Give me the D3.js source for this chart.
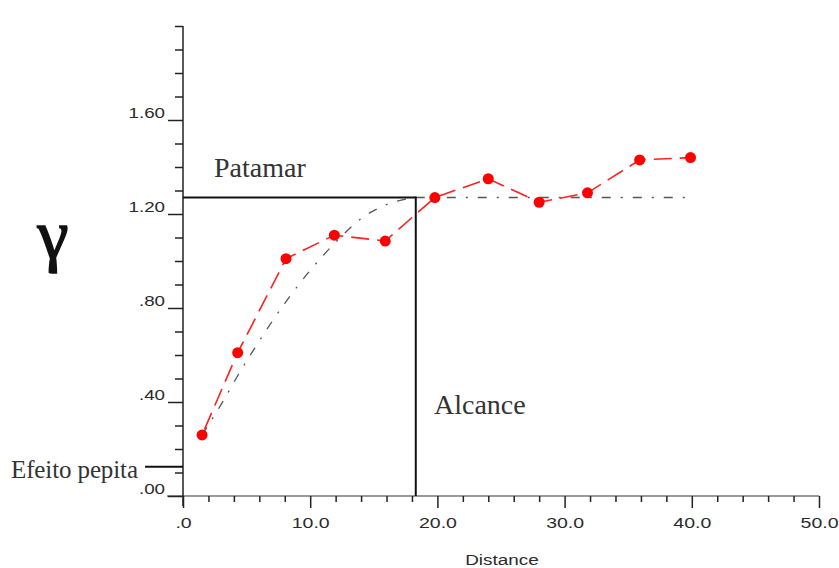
<!DOCTYPE html>
<html>
<head>
<meta charset="utf-8">
<script src="https://cdn.jsdelivr.net/npm/d3@7"></script>
<style>
  body { margin: 0; background: #fff; }
  text.tick-lbl { font-family: "Liberation Sans", Arial, sans-serif; font-size: 15px; fill: #2a2a2a; }
  text.serif { font-family: "Liberation Serif", "Times New Roman", serif; fill: #333; }
</style>
</head>
<body>
<svg></svg>
<script>
const lags   = [1.5, 4.3, 8.1, 11.9, 15.9, 19.8, 24.0, 28.0, 31.8, 35.9, 39.9];
const gammas = [0.26, 0.61, 1.01, 1.11, 1.085, 1.27, 1.35, 1.25, 1.29, 1.43, 1.44];

// Modèle ajusté (courbe pointillée)
const modelLags   = [1.5, 3, 4.5, 6, 8, 10, 12, 14, 16, 18.3];
const modelGammas = [0.26, 0.39, 0.53, 0.66, 0.82, 0.96, 1.08, 1.18, 1.24, 1.27];
const sillLags    = [18.3, 40];

// Paramètres marqués (patamar, alcance, efeito pepita)
const sill = 1.27;
const range = 18.3;
const nugget = 0.125;

// Axes
const xTicks = [0, 10, 20, 30, 40, 50];
const xTickLabels = [".0", "10.0", "20.0", "30.0", "40.0", "50.0"];
const xMinor = [2, 4, 6, 8, 12, 14, 16, 18, 22, 24, 26, 28, 32, 34, 36, 38, 42, 44, 46, 48];
const yTicks = [0, 0.4, 0.8, 1.2, 1.6];
const yTickLabels = [".00", ".40", ".80", "1.20", "1.60"];
const yMinor = [0.1, 0.2, 0.3, 0.5, 0.6, 0.7, 0.9, 1.0, 1.1, 1.3, 1.4, 1.5, 1.7, 1.8, 1.9, 2.0];

// ================= SVG ================= //
const width = 839, height = 568;
const svg = d3.select("svg").attr("width", width).attr("height", height);

const x = d3.scaleLinear().domain([0, 50]).range([183, 819]);
const y = d3.scaleLinear().domain([0, 2]).range([496, 26]);

// étirement horizontal des libellés (police large de l'original)
function stretch(sel, k) {
  sel.each(function () {
    const w = this.getComputedTextLength();
    d3.select(this).attr("textLength", w * k).attr("lengthAdjust", "spacingAndGlyphs");
  });
}

// ---- Axe X ----
const gx = svg.append("g").attr("transform", `translate(0,${y(0)})`);
gx.append("line")
  .attr("x1", x(0) - 16).attr("x2", x(50))
  .attr("stroke", "#777").attr("stroke-width", 1.5);
gx.call(g => g.append("g").call(d3.axisBottom(x).tickValues(xMinor).tickSize(6).tickFormat("")))
  .call(g => g.append("g").call(d3.axisBottom(x).tickValues(xTicks).tickSize(12)
      .tickFormat((d, i) => xTickLabels[i])));
gx.selectAll(".domain").remove();
gx.selectAll(".tick line").attr("stroke", "#222").attr("stroke-width", 1.5);
gx.selectAll(".tick text")
  .attr("class", "tick-lbl")
  .attr("y", 32).attr("dy", 0)
  .attr("fill", null)
  .call(stretch, 1.3);

// ---- Axe Y ----
const gy = svg.append("g").attr("transform", `translate(${x(0)},0)`);
gy.append("line")
  .attr("y1", y(2)).attr("y2", y(0) + 10)
  .attr("stroke", "#222").attr("stroke-width", 1.5);
gy.call(g => g.append("g").call(d3.axisLeft(y).tickValues(yMinor).tickSize(8).tickFormat("")))
  .call(g => g.append("g").call(d3.axisLeft(y).tickValues(yTicks).tickSize(15)
      .tickFormat((d, i) => yTickLabels[i])));
gy.selectAll(".domain").remove();
gy.selectAll(".tick line").attr("stroke", "#222").attr("stroke-width", 1.5);
gy.selectAll(".tick text")
  .attr("class", "tick-lbl")
  .attr("x", -18).attr("dy", -3)
  .attr("fill", null)
  .call(stretch, 1.25);

// Titre axe X
svg.append("text")
  .attr("class", "tick-lbl")
  .attr("x", 502).attr("y", 565)
  .attr("text-anchor", "middle")
  .style("font-size", "14px")
  .text("Distance")
  .call(stretch, 1.35);

// ---- Modèle (tiret-point) ----
const line = d3.line().x(d => x(d[0])).y(d => y(d[1]));
svg.append("path")
  .datum(modelLags.map((h, i) => [h, modelGammas[i]]))
  .attr("d", d3.line().curve(d3.curveMonotoneX).x(d => x(d[0])).y(d => y(d[1])))
  .attr("fill", "none").attr("stroke", "#555").attr("stroke-width", 1.3)
  .attr("stroke-dasharray", "9,10,2,10");
svg.append("path")
  .datum(sillLags.map(h => [h, sill]))
  .attr("d", line)
  .attr("fill", "none").attr("stroke", "#555").attr("stroke-width", 1.5)
  .attr("stroke-dasharray", "9,10,2,10");

// ---- Patamar / Alcance / Efeito pepita ----
svg.append("line")
  .attr("x1", x(0)).attr("x2", x(range))
  .attr("y1", y(sill)).attr("y2", y(sill))
  .attr("stroke", "#111").attr("stroke-width", 2);
svg.append("line")
  .attr("x1", x(range)).attr("x2", x(range))
  .attr("y1", y(sill) - 1).attr("y2", y(0))
  .attr("stroke", "#111").attr("stroke-width", 2);
svg.append("line")
  .attr("x1", x(0) - 38).attr("x2", x(0))
  .attr("y1", y(nugget)).attr("y2", y(nugget))
  .attr("stroke", "#111").attr("stroke-width", 2);

// ---- Variogramme expérimental ----
svg.append("path")
  .datum(lags.map((h, i) => [h, gammas[i]]))
  .attr("d", line)
  .attr("fill", "none").attr("stroke", "#ff2020").attr("stroke-width", 1.6)
  .attr("stroke-dasharray", "18,8")
  .attr("stroke-dashoffset", -6);

svg.selectAll("circle.pt")
  .data(lags.map((h, i) => [h, gammas[i]]))
  .enter().append("circle")
  .attr("class", "pt")
  .attr("cx", d => x(d[0])).attr("cy", d => y(d[1]))
  .attr("r", 5.5)
  .attr("fill", "#ff0000");

// ---- Textes ----
svg.append("text").attr("class", "serif")
  .attr("x", 214).attr("y", 177)
  .style("font-size", "28px")
  .text("Patamar");
svg.append("text").attr("class", "serif")
  .attr("x", 434).attr("y", 414)
  .style("font-size", "28px")
  .text("Alcance");
svg.append("text").attr("class", "serif")
  .attr("x", 11).attr("y", 478)
  .style("font-size", "25px")
  .attr("textLength", 127)
  .text("Efeito pepita");
svg.append("text").attr("class", "serif")
  .attr("x", 53).attr("y", 258)
  .attr("text-anchor", "middle")
  .style("font-size", "70px").style("fill", "#111")
  .style("stroke", "#111").style("stroke-width", 1.6)
  .text("γ");
</script>
</body>
</html>
